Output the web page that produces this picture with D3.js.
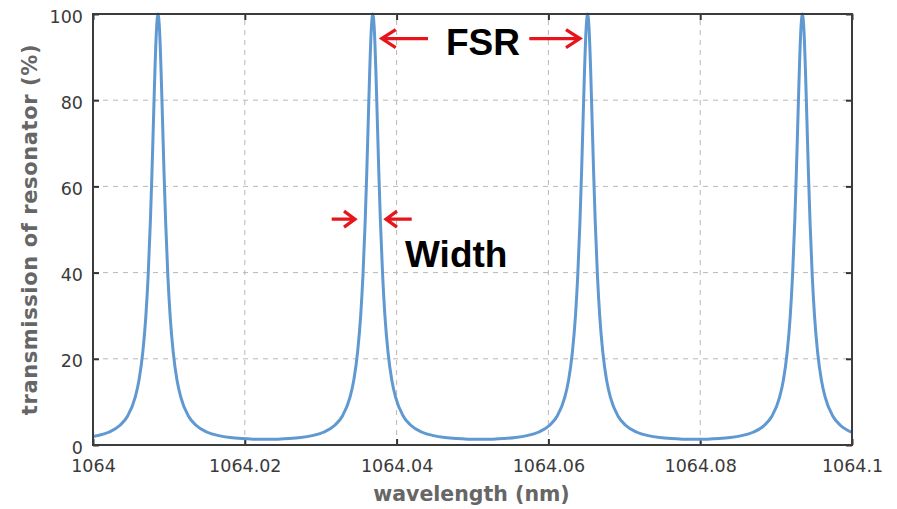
<!DOCTYPE html>
<html><head><meta charset="utf-8">
<script src="https://cdn.jsdelivr.net/npm/d3@7"></script>
<style>body{margin:0;background:#fff}svg{display:block}</style>
</head><body><svg id="c" width="897" height="509"></svg>
<script>
// ---- data ----
const wavelength = [
 1064.000000,1064.000564,1064.002064,1064.003564,1064.004564,1064.005564,1064.006064,1064.006564,1064.006964,1064.007264,1064.007564,1064.007764,1064.007964,1064.008164,1064.008364,1064.008564,
 1064.008764,1064.008964,1064.009164,1064.009364,1064.009564,1064.009864,1064.010164,1064.010564,1064.011064,1064.011564,1064.012564,1064.013564,1064.015064,1064.016564,1064.018064,1064.019564,1064.021064,1064.022714,
 1064.024364,1064.025864,1064.027364,1064.028864,1064.030364,1064.031864,1064.032864,1064.033864,1064.034364,1064.034864,1064.035264,1064.035564,1064.035864,1064.036064,1064.036264,1064.036464,1064.036664,1064.036864,
 1064.037064,1064.037264,1064.037464,1064.037664,1064.037864,1064.038164,1064.038464,1064.038864,1064.039364,1064.039864,1064.040864,1064.041864,1064.043364,1064.044864,1064.046364,1064.047864,1064.049364,1064.051014,
 1064.052664,1064.054164,1064.055664,1064.057164,1064.058664,1064.060164,1064.061164,1064.062164,1064.062664,1064.063164,1064.063564,1064.063864,1064.064164,1064.064364,1064.064564,1064.064764,1064.064964,1064.065164,
 1064.065364,1064.065564,1064.065764,1064.065964,1064.066164,1064.066464,1064.066764,1064.067164,1064.067664,1064.068164,1064.069164,1064.070164,1064.071664,1064.073164,1064.074664,1064.076164,1064.077664,1064.079314,
 1064.080964,1064.082464,1064.083964,1064.085464,1064.086964,1064.088464,1064.089464,1064.090464,1064.090964,1064.091464,1064.091864,1064.092164,1064.092464,1064.092664,1064.092864,1064.093064,1064.093264,1064.093464,
 1064.093664,1064.093864,1064.094064,1064.094264,1064.094464,1064.094764,1064.095064,1064.095464,1064.095964,1064.096464,1064.097464,1064.098464,1064.100000
];
const transmission = [
 1.97,2.17,2.96,4.58,6.74,11.1,15.1,21.6,29.9,39.2,52.1,62.9,75.1,87.1,96.4,100,
 96.4,87.1,75.1,62.9,52.1,39.2,29.9,21.6,15.1,11.1,6.74,4.58,2.96,2.17,1.73,1.49,1.36,1.32,
 1.36,1.49,1.73,2.17,2.96,4.58,6.74,11.1,15.1,21.6,29.9,39.2,52.1,62.9,75.1,87.1,96.4,100,
 96.4,87.1,75.1,62.9,52.1,39.2,29.9,21.6,15.1,11.1,6.74,4.58,2.96,2.17,1.73,1.49,1.36,1.32,
 1.36,1.49,1.73,2.17,2.96,4.58,6.74,11.1,15.1,21.6,29.9,39.2,52.1,62.9,75.1,87.1,96.4,100,
 96.4,87.1,75.1,62.9,52.1,39.2,29.9,21.6,15.1,11.1,6.74,4.58,2.96,2.17,1.73,1.49,1.36,1.32,
 1.36,1.49,1.73,2.17,2.96,4.58,6.74,11.1,15.1,21.6,29.9,39.2,52.1,62.9,75.1,87.1,96.4,100,
 96.4,87.1,75.1,62.9,52.1,39.2,29.9,21.6,15.1,11.1,6.74,4.58,2.93
];
const xTicks = [1064, 1064.02, 1064.04, 1064.06, 1064.08, 1064.1];
const xTickLabels = ["1064", "1064.02", "1064.04", "1064.06", "1064.08", "1064.1"];
const yTicks = [0, 20, 40, 60, 80, 100];
const yTickLabels = ["0", "20", "40", "60", "80", "100"];
const xTitle = "wavelength (nm)";
const yTitle = "transmission of resonator (%)";
// annotation arrows: [tailWavelength, tipWavelength, level %]
const fsrArrows = [[1064.04414, 1064.03804, 94.3], [1064.05748, 1064.06416, 94.3]];
const widthArrows = [[1064.03145, 1064.03452, 52.4], [1064.04199, 1064.03860, 52.4]];
const fsrLabel = {text: "FSR", x: 1064.05138, y: 90.5};
const widthLabel = {text: "Width", x: 1064.04111, y: 41.3};

// ---- drawing ----
const W = 897, H = 509;
const m = {l: 93, r: 45, t: 14, b: 64};
const svg = d3.select("#c");
svg.append("rect").attr("width", W).attr("height", H).attr("fill", "#fff");

const x = d3.scaleLinear().domain([1064, 1064.1]).range([m.l, W - m.r]);
const y = d3.scaleLinear().domain([0, 100]).range([H - m.b, m.t]);

const g = svg.append("g");
// grid
g.selectAll(".gx").data(xTicks.slice(1, -1)).join("line")
  .attr("x1", d => x(d)).attr("x2", d => x(d)).attr("y1", y(0)).attr("y2", y(100))
  .attr("stroke", "#b8b8b8").attr("stroke-width", 1).attr("stroke-dasharray", "5,5");
g.selectAll(".gy").data(yTicks.slice(1, -1)).join("line")
  .attr("y1", d => y(d)).attr("y2", d => y(d)).attr("x1", x(1064)).attr("x2", x(1064.1))
  .attr("stroke", "#b8b8b8").attr("stroke-width", 1).attr("stroke-dasharray", "5,5");

// axes (inward ticks on all sides)
const axB = d3.axisBottom(x).tickValues(xTicks).tickSize(-6).tickFormat((d, i) => xTickLabels[i]).tickPadding(14.5);
const axT = d3.axisTop(x).tickValues(xTicks).tickSize(-6).tickFormat("");
const axL = d3.axisLeft(y).tickValues(yTicks).tickSize(-6).tickFormat((d, i) => yTickLabels[i]).tickPadding(10);
const axR = d3.axisRight(y).tickValues(yTicks).tickSize(-6).tickFormat("");
function style(sel) {
  sel.select(".domain").remove();
  sel.selectAll(".tick line").attr("stroke", "#333").attr("stroke-width", 2);
  sel.selectAll(".tick text").attr("fill", "#3a3a3a").style("font-family", "'DejaVu Sans', Verdana, sans-serif").style("font-size", "17.5px");
}
g.append("g").attr("transform", `translate(0,${y(0)})`).call(axB).call(style);
g.append("g").attr("transform", `translate(0,${y(100)})`).call(axT).call(style);
g.append("g").attr("transform", `translate(${x(1064)},0)`).call(axL).call(style)
  .selectAll(".tick text").attr("dy", "0.46em");
g.append("g").attr("transform", `translate(${x(1064.1)},0)`).call(axR).call(style);

// data line
const pts = wavelength.map((w, i) => [w, transmission[i]]);
g.append("path").datum(pts)
  .attr("fill", "none").attr("stroke", "#6099d2").attr("stroke-width", 3)
  .attr("stroke-linejoin", "round")
  .attr("d", d3.line().x(d => x(d[0])).y(d => y(d[1])).curve(d3.curveMonotoneX));

// frame
g.append("rect").attr("x", x(1064)).attr("y", y(100))
  .attr("width", x(1064.1) - x(1064)).attr("height", y(0) - y(100))
  .attr("fill", "none").attr("stroke", "#3c3c3c").attr("stroke-width", 2);

// titles
g.append("text").attr("x", (x(1064) + x(1064.1)) / 2 - 1).attr("y", 501)
  .attr("text-anchor", "middle").attr("fill", "#666")
  .style("font-family", "'DejaVu Sans', Verdana, sans-serif").style("font-weight", "bold").style("font-size", "20.5px")
  .text(xTitle);
g.append("text").attr("transform", `translate(37,${(y(0) + y(100)) / 2}) rotate(-90)`)
  .attr("text-anchor", "middle").attr("fill", "#666")
  .style("font-family", "'DejaVu Sans', Verdana, sans-serif").style("font-weight", "bold").style("font-size", "21px")
  .style("letter-spacing", "0.6px")
  .text(yTitle);

// annotations
function arrow(a, head, half) {
  const x0 = x(a[0]), x1 = x(a[1]), yy = y(a[2]);
  const dir = Math.sign(x1 - x0);
  g.append("path")
    .attr("d", `M${x0},${yy}L${x1},${yy}M${x1 - dir * head},${yy - half}L${x1},${yy}L${x1 - dir * head},${yy + half}`)
    .attr("fill", "none").attr("stroke", "#e8141b").attr("stroke-width", 3.2)
    .attr("stroke-linecap", "butt").attr("stroke-linejoin", "miter");
}
fsrArrows.forEach(a => arrow(a, 14, 9));
widthArrows.forEach(a => arrow(a, 11, 8));
g.append("text").attr("x", x(fsrLabel.x)).attr("y", y(fsrLabel.y)).attr("text-anchor", "middle")
  .attr("fill", "#000").style("font-family", "'Liberation Sans', Arial, sans-serif").style("font-weight", "bold").style("font-size", "37px")
  .text(fsrLabel.text);
g.append("text").attr("x", x(widthLabel.x)).attr("y", y(widthLabel.y)).attr("text-anchor", "start")
  .attr("fill", "#000").style("font-family", "'Liberation Sans', Arial, sans-serif").style("font-weight", "bold").style("font-size", "37px")
  .text(widthLabel.text);
</script></body></html>
